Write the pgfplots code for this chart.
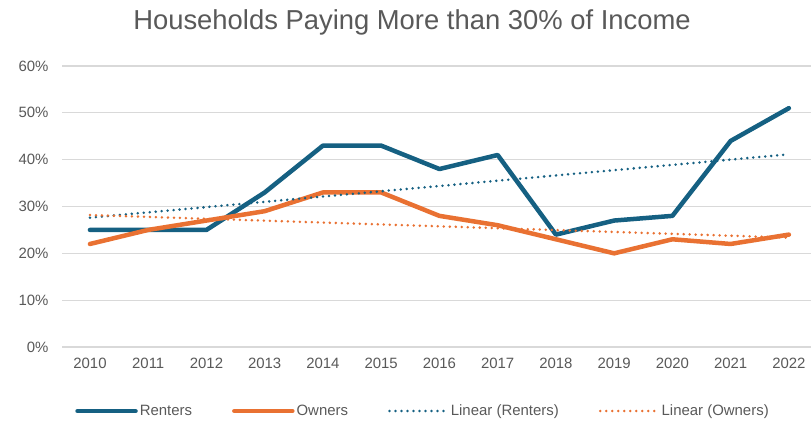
\documentclass[border=0pt]{standalone}
\usepackage{pgfplots}
\pgfplotsset{compat=1.18}
\usepackage{fontspec}
\setmainfont{Liberation Sans}
\definecolor{renters}{HTML}{156082}
\definecolor{owners}{HTML}{E97132}
\definecolor{txt}{HTML}{595959}
\definecolor{gridc}{HTML}{D9D9D9}
\begin{document}
\begin{tikzpicture}[x=1bp,y=1bp]
\path[use as bounding box] (0,0) rectangle (811,426);
\node[font=\fontsize{27.5}{32}\selectfont, text=txt] at (412,404) {Households Paying More than 30\% of Income};
\begin{axis}[at={(62bp,79bp)}, anchor=south west, scale only axis,
  width=749bp, height=281bp,
  xmin=2009.52, xmax=2022.38, ymin=0, ymax=60,
  xtick={2010,2011,2012,2013,2014,2015,2016,2017,2018,2019,2020,2021,2022},
  xticklabels={2010,2011,2012,2013,2014,2015,2016,2017,2018,2019,2020,2021,2022},
  ytick={0,10,20,30,40,50,60},
  yticklabels={0\%,10\%,20\%,30\%,40\%,50\%,60\%},
  axis line style={draw=none}, major tick length=0pt,
  ymajorgrids, grid style={gridc, line width=1.2bp},
  tick label style={font=\fontsize{15}{18}\selectfont, text=txt},
  yticklabel style={xshift=-10bp},
  xticklabel style={yshift=-8bp},
  clip=false,
  legend columns=4,
  legend style={at={(0.482,-0.228)}, anchor=center, draw=none, fill=none,
    font=\fontsize{15}{18}\selectfont, text=txt,
    /tikz/every even column/.append style={column sep=38bp}},
  legend image code/.code={\draw[#1] (0bp,0bp) -- (58bp,0bp);},
]
\addplot[renters, line width=4.5bp, line join=round, line cap=round] coordinates {
(2010,25) (2011,25) (2012,25) (2013,33) (2014,43) (2015,43) (2016,38)
(2017,41) (2018,24) (2019,27) (2020,28) (2021,44) (2022,51)};
\addlegendentry{Renters}
\addplot[owners, line width=4.5bp, line join=round, line cap=round] coordinates {
(2010,22) (2011,25) (2012,27) (2013,29) (2014,33) (2015,33) (2016,28)
(2017,26) (2018,23) (2019,20) (2020,23) (2021,22) (2022,24)};
\addlegendentry{Owners}
\addplot[renters, line width=2.8bp, line cap=round, dash pattern=on 0bp off 6bp] coordinates {
(2010,27.62) (2022,41.14)};
\addlegendentry{Linear (Renters)}
\addplot[owners, line width=2.8bp, line cap=round, dash pattern=on 0bp off 6bp] coordinates {
(2010,28.18) (2022,23.36)};
\addlegendentry{Linear (Owners)}
\end{axis}
\end{tikzpicture}
\end{document}
